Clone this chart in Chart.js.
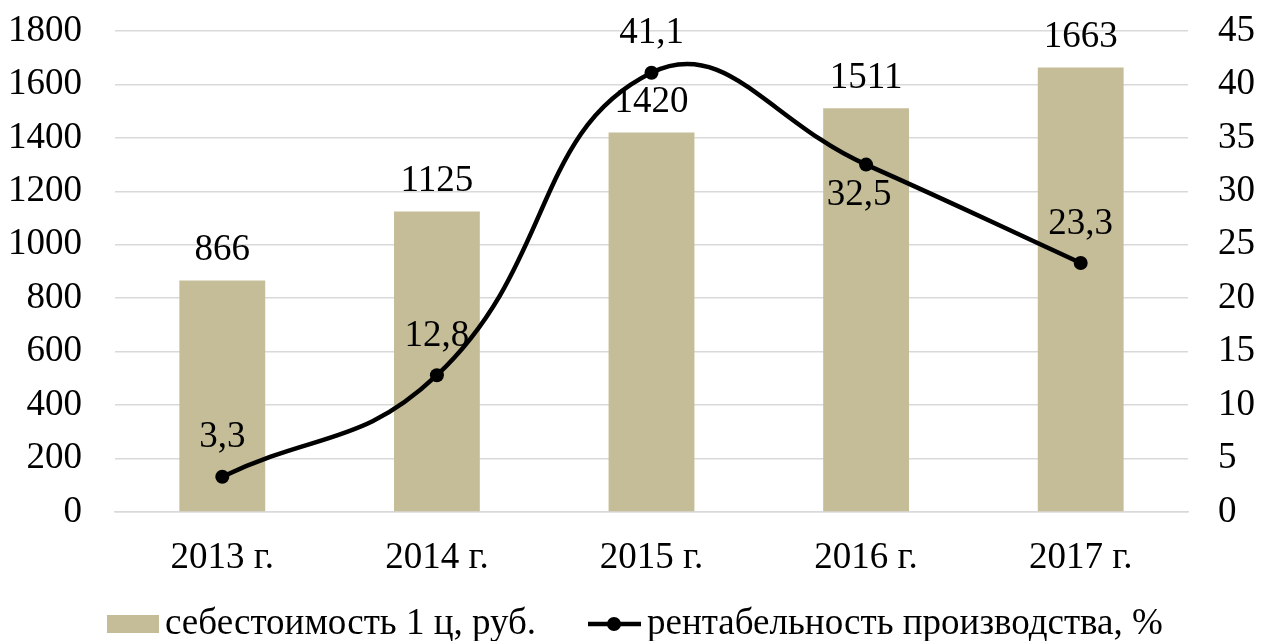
<!DOCTYPE html>
<html><head><meta charset="utf-8">
<script src="https://cdn.jsdelivr.net/npm/chart.js@4"></script>
<style>html,body{margin:0;padding:0;background:#fff}#w{width:1262px;height:641px}</style>
</head><body><div id="w"><canvas id="c"></canvas></div>
<script>
const categories = ['2013 г.', '2014 г.', '2015 г.', '2016 г.', '2017 г.'];
const costValues = [866, 1125, 1420, 1511, 1663];
const profitValues = [3.3, 12.8, 41.1, 32.5, 23.3];
const profitLabels = ['3,3', '12,8', '41,1', '32,5', '23,3'];
const profitLabelBelow = [false, false, false, true, false];
const costName = 'себестоимость 1 ц, руб.';
const profitName = 'рентабельность производства, %';

const FONT = '"Liberation Serif", "Times New Roman", serif';
const FS = 37;
const BAR = '#C4BD97';

const labelPlugin = {
  id: 'labels',
  afterDatasetsDraw(chart) {
    const ctx = chart.ctx;
    ctx.save();
    ctx.font = FS + 'px ' + FONT;
    ctx.fillStyle = '#000';
    ctx.textAlign = 'center';
    ctx.textBaseline = 'middle';
    chart.getDatasetMeta(0).data.forEach((el, i) => {
      ctx.fillText(String(costValues[i]), el.x, el.y - 30);
    });
    chart.getDatasetMeta(1).data.forEach((el, i) => {
      const dy = profitLabelBelow[i] ? 31 : -39;
      ctx.fillText(profitLabels[i], el.x - (profitLabelBelow[i] ? 7 : 0), el.y + dy);
    });
    // legend
    const ly = 624;
    ctx.fillStyle = BAR;
    ctx.fillRect(107, ly - 9, 52, 18);
    ctx.fillStyle = '#000';
    ctx.textAlign = 'left';
    ctx.fillText(costName, 165, ly);
    ctx.strokeStyle = '#000';
    ctx.lineWidth = 4.5;
    ctx.beginPath(); ctx.moveTo(588, ly); ctx.lineTo(641, ly); ctx.stroke();
    ctx.beginPath(); ctx.arc(614, ly, 7, 0, Math.PI * 2); ctx.fill();
    ctx.fillText(profitName, 647, ly);
    ctx.restore();
  }
};

function fixV(w) {
  return function (s) { s.width = w; s.paddingTop = 0; s.paddingBottom = 0; };
}

new Chart(document.getElementById('c'), {
  data: {
    labels: categories,
    datasets: [
      { type: 'bar', label: costName, data: costValues, backgroundColor: BAR, yAxisID: 'y',
        barPercentage: 0.4, categoryPercentage: 1.0, order: 2 },
      { type: 'line', label: profitName, data: profitValues, yAxisID: 'y1', borderColor: '#000',
        backgroundColor: '#000', borderWidth: 4.5, pointRadius: 7, pointBackgroundColor: '#000',
        pointBorderWidth: 0, tension: 0.45, order: 1 }
    ]
  },
  options: {
    responsive: true, maintainAspectRatio: false, animation: false,
    layout: { padding: { top: 31, bottom: 0, left: 0, right: 0 } },
    plugins: { legend: { display: false }, tooltip: { enabled: false } },
    scales: {
      x: {
        grid: { display: false },
        border: { display: true, color: '#d9d9d9', width: 1.5 },
        ticks: { color: '#000', font: { family: FONT, size: FS }, padding: 16, maxRotation: 0 },
        afterFit(s) { s.height = 129; s.paddingLeft = 0; s.paddingRight = 0; }
      },
      y: {
        position: 'left', min: 0, max: 1800,
        ticks: { stepSize: 200, color: '#000', font: { family: FONT, size: FS }, padding: 33,
          callback: v => String(v) },
        grid: { color: '#d9d9d9', lineWidth: 1.5, drawTicks: false },
        border: { display: false },
        afterFit: fixV(115)
      },
      y1: {
        position: 'right', min: 0, max: 45,
        ticks: { stepSize: 5, color: '#000', font: { family: FONT, size: FS }, padding: 30,
          callback: v => String(v) },
        grid: { display: false, drawTicks: false },
        border: { display: false },
        afterFit: fixV(74)
      }
    }
  },
  plugins: [labelPlugin]
});
</script></body></html>
